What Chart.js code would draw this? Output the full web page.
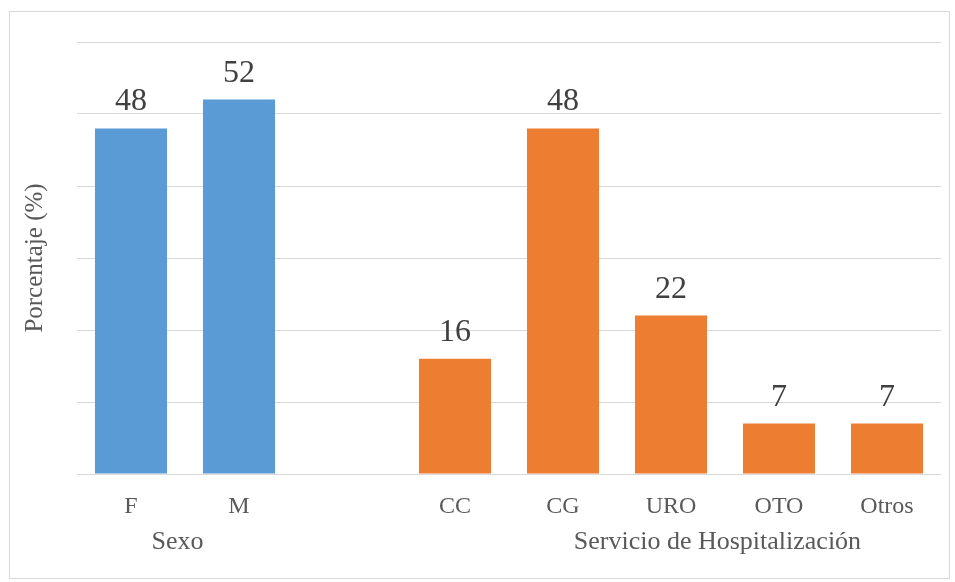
<!DOCTYPE html>
<html>
<head>
<meta charset="utf-8">
<script src="https://cdn.jsdelivr.net/npm/chart.js@4/dist/chart.umd.min.js"></script>
<style>
  html, body { margin: 0; padding: 0; background: #fff; }
  #wrap { position: relative; width: 955px; height: 582px; }
  #frame { position: absolute; left: 9px; top: 11px; width: 939px; height: 566px; border: 1px solid #d9d9d9; pointer-events: none; }
</style>
</head>
<body>
<div id="wrap">
  <canvas id="bar_chart" width="955" height="582"></canvas>
  <div id="frame"></div>
</div>
<script>
const sexo_labels = ['F', 'M'];
const sexo_values = [48, 52];
const servicio_labels = ['CC', 'CG', 'URO', 'OTO', 'Otros'];
const servicio_values = [16, 48, 22, 7, 7];
const group_names = ['Sexo', 'Servicio de Hospitalización'];
const y_ticks_max = 60;

const blue = '#5B9BD5';
const orange = '#ED7D31';
const serif = "'Liberation Serif', 'Times New Roman', serif";

// one empty slot between the two groups
const labels = [...sexo_labels, '', ...servicio_labels];
const values = [...sexo_values, null, ...servicio_values];
const colors = [...sexo_labels.map(() => blue), 'rgba(0,0,0,0)', ...servicio_labels.map(() => orange)];

// group captions sit at these positions on the category scale
const group_centers = [0.43, 5.43];

const value_labels = {
    id: 'value_labels',
    afterDatasetsDraw(chart) {
        const ctx = chart.ctx;
        const meta = chart.getDatasetMeta(0);
        ctx.save();
        ctx.font = `32px ${serif}`;
        ctx.fillStyle = '#404040';
        ctx.textAlign = 'center';
        ctx.textBaseline = 'alphabetic';
        meta.data.forEach((bar, i) => {
            const v = chart.data.datasets[0].data[i];
            if (v == null) return;
            ctx.fillText(String(v), bar.x, bar.y - 18);
        });
        ctx.restore();
    }
};

const group_labels = {
    id: 'group_labels',
    afterDraw(chart) {
        const ctx = chart.ctx;
        const x = chart.scales.x;
        ctx.save();
        ctx.font = `26px ${serif}`;
        ctx.fillStyle = '#595959';
        ctx.textAlign = 'center';
        ctx.textBaseline = 'middle';
        group_names.forEach((name, i) => {
            ctx.fillText(name, x.getPixelForValue(group_centers[i]), 542);
        });
        ctx.restore();
    }
};

const config = {
    type: 'bar',
    data: {
        labels: labels,
        datasets: [{
            data: values,
            backgroundColor: colors,
            borderWidth: 0,
            categoryPercentage: 1,
            barPercentage: 0.667
        }]
    },
    options: {
        responsive: false,
        animation: false,
        layout: { padding: { left: 0, right: 14, top: 42, bottom: 0 } },
        plugins: {
            legend: { display: false },
            tooltip: { enabled: false }
        },
        scales: {
            x: {
                grid: { display: false },
                border: { display: false },
                ticks: {
                    color: '#595959',
                    font: { family: serif, size: 24 },
                    padding: 10,
                    maxRotation: 0,
                    autoSkip: false
                },
                afterFit: (scale) => { scale.height = 108; }
            },
            y: {
                min: 0,
                max: y_ticks_max,
                ticks: { display: false, stepSize: 10 },
                grid: { color: '#d9d9d9', lineWidth: 1, drawTicks: false },
                border: { display: false },
                title: {
                    display: true,
                    text: 'Porcentaje (%)',
                    color: '#595959',
                    font: { family: serif, size: 25 },
                    padding: { top: 20, bottom: 0 }
                },
                afterFit: (scale) => { scale.width = 77; }
            }
        }
    },
    plugins: [value_labels, group_labels]
};

var ctx_bar = document.getElementById('bar_chart');
var bar_chart = new Chart(ctx_bar, config);
</script>
</body>
</html>
